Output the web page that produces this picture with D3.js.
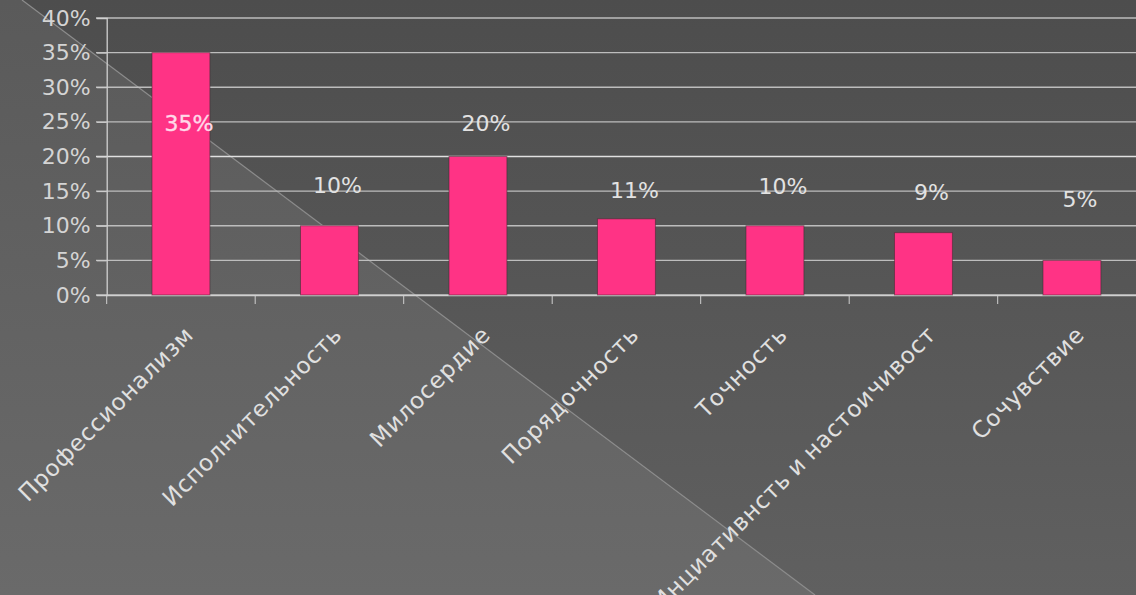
<!DOCTYPE html>
<html><head><meta charset="utf-8">
<script src="https://cdn.jsdelivr.net/npm/d3@7"></script>
<style>
html,body{margin:0;padding:0;background:#555;overflow:hidden}
svg{display:block}
text{font-family:"DejaVu Sans",Verdana,sans-serif}
</style></head>
<body>
<svg id="c" width="1136" height="595"></svg>
<script>
const categories = ["Профессионализм","Исполнительность","Милосердие","Порядочность","Точность","Инциативнсть и настоичивост","Сочувствие"];
const values = [0.35, 0.10, 0.20, 0.11, 0.10, 0.09, 0.05];
const valueLabels = ["35%","10%","20%","11%","10%","9%","5%"];
const yTicks = [0,0.05,0.10,0.15,0.20,0.25,0.30,0.35,0.40];

const W = 1136, H = 595;
const svg = d3.select("#c");
const defs = svg.append("defs");
const g1 = defs.append("linearGradient").attr("id","dark").attr("x1",0).attr("y1",0).attr("x2",0).attr("y2",1);
g1.append("stop").attr("offset","0%").attr("stop-color","#4d4d4d");
g1.append("stop").attr("offset","100%").attr("stop-color","#606060");
const g2 = defs.append("linearGradient").attr("id","light").attr("x1",0).attr("y1",0).attr("x2",0).attr("y2",1);
g2.append("stop").attr("offset","0%").attr("stop-color","#5a5a5a");
g2.append("stop").attr("offset","100%").attr("stop-color","#6a6a6a");

// background
svg.append("rect").attr("width",W).attr("height",H).attr("fill","url(#dark)");
svg.append("path").attr("d",`M0,0 L22,0 L815,595 L0,595 Z`).attr("fill","url(#light)");
svg.append("line").attr("x1",22).attr("y1",0).attr("x2",815).attr("y2",595)
  .attr("stroke","#8c8c8c").attr("stroke-width",1.2);

const x0 = 106.7, step = 148.5;
const x = d3.scaleBand().domain(categories).range([x0, x0 + step*categories.length])
  .paddingInner(0.61).paddingOuter(0.305);
const y = d3.scaleLinear().domain([0,0.4]).range([295,18]);

// gridlines
svg.append("g").selectAll("line").data(yTicks).join("line")
  .attr("x1",96).attr("x2",W).attr("y1",d=>y(d)).attr("y2",d=>y(d))
  .attr("stroke",d=>d===0.20?"#e0e0e0":"#bdbdbd").attr("stroke-width",1.3);

// y axis
const yAxis = d3.axisLeft(y).tickValues(yTicks).tickFormat(d3.format(".0%")).tickSize(10).tickPadding(6);
const ya = svg.append("g").attr("transform",`translate(${x0},0)`).call(yAxis);
ya.select(".domain").attr("stroke","#d0d0d0").attr("stroke-width",1.3);
ya.selectAll(".tick line").attr("stroke","#d0d0d0");
ya.selectAll(".tick text").attr("fill","#d4d4d4").attr("font-size",22);

// x axis
const xa = svg.append("g").attr("transform",`translate(0,${y(0)})`)
  .call(d3.axisBottom(x).tickSize(0).tickFormat(""));
xa.select(".domain").attr("stroke","#d0d0d0").attr("stroke-width",1.3);
svg.append("g").selectAll("line").data(d3.range(categories.length+1)).join("line")
  .attr("x1",i=>x0+i*step).attr("x2",i=>x0+i*step).attr("y1",y(0)).attr("y2",y(0)+9)
  .attr("stroke","#d0d0d0").attr("stroke-width",1);

// bars
svg.append("g").selectAll("rect").data(values).join("rect")
  .attr("x",(d,i)=>x(categories[i])).attr("width",x.bandwidth())
  .attr("y",d=>y(d)).attr("height",d=>y(0)-y(d))
  .attr("fill","#ff3385").attr("stroke","rgba(70,40,50,0.55)").attr("stroke-width",1);

// value labels (layout heights, as placed in the original)
const labelLevel = [0.248,0.159,0.248,0.152,0.157,0.149,0.138];
svg.append("g").selectAll("text").data(valueLabels).join("text")
  .attr("x",(d,i)=>x(categories[i])+x.bandwidth()/2+8)
  .attr("y",(d,i)=>y(labelLevel[i]))
  .attr("dy","0.36em").attr("text-anchor","middle").attr("font-size",22)
  .attr("fill",(d,i)=>i===0?"#ffd9e8":"#e2e2e2")
  .attr("stroke",(d,i)=>i===0?"#ffd9e8":"none").attr("stroke-width",0.4)
  .text(d=>d);

// category labels
svg.append("g").selectAll("text").data(categories).join("text")
  .attr("transform",d=>`translate(${x(d)+x.bandwidth()/2+14},336) rotate(-45)`)
  .attr("text-anchor","end").attr("font-size",23).attr("letter-spacing","0.9px")
  .attr("word-spacing","-2px").attr("fill","#e0e0e0")
  .text(d=>d);
</script>
</body></html>
